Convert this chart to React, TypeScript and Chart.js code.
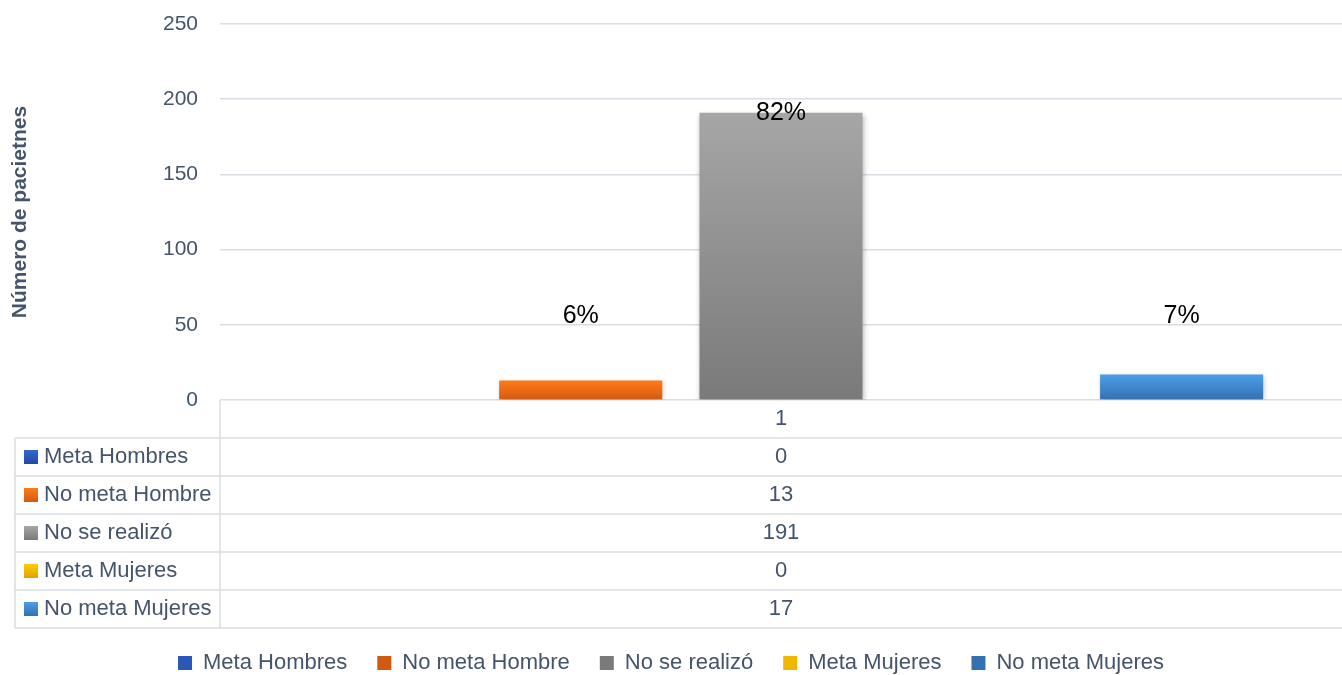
import React, { useEffect, useRef } from "react";
import { Chart, registerables } from "chart.js";

Chart.register(...registerables);

const categories = ["1"];
const seriesNames = ["Meta Hombres", "No meta Hombre", "No se realizó", "Meta Mujeres", "No meta Mujeres"];
const seriesValues = [0, 13, 191, 0, 17];
const percentLabels = ["", "6%", "82%", "", "7%"];
const yTicks = [0, 50, 100, 150, 200, 250];
const colorTop = ["#3368d2", "#ff7b18", "#a6a6a6", "#ffcc00", "#4a9fe9"];
const colorBottom = ["#224a9d", "#d25a10", "#7a7a7a", "#e0a200", "#3471b0"];
const colorMid = ["#2a58b8", "#ea6a14", "#909090", "#f0b700", "#3f89cd"];

const FONT = "'Liberation Sans', Arial, sans-serif";
const TEXT = "#44546A";
const GRID = "#d9dde4";

export default function App() {
  const ref = useRef<HTMLCanvasElement | null>(null);

  useEffect(() => {
    if (!ref.current) return;

    const barPlugin = {
      id: "barExtras",
      beforeDatasetsDraw(chart: any) {
        const ctx = chart.ctx;
        ctx.save();
        ctx.shadowColor = "rgba(0,0,0,0.28)";
        ctx.shadowBlur = 5;
        ctx.shadowOffsetX = 1;
        ctx.shadowOffsetY = 2;
      },
      afterDatasetsDraw(chart: any) {
        const ctx = chart.ctx;
        ctx.restore();
        const y = chart.scales.y;
        const LABEL_FLOOR = 56;
        ctx.save();
        ctx.fillStyle = "#000000";
        ctx.font = `25px ${FONT}`;
        ctx.textAlign = "center";
        ctx.textBaseline = "middle";
        chart.data.datasets.forEach((ds: any, i: number) => {
          const txt = percentLabels[i];
          if (!txt) return;
          const meta = chart.getDatasetMeta(i);
          const el = meta.data[0];
          const v = seriesValues[i];
          ctx.fillText(txt, el.x, y.getPixelForValue(Math.max(v, LABEL_FLOOR)));
        });
        ctx.restore();
      },
    };

    const tablePlugin = {
      id: "dataTable",
      afterDraw(chart: any) {
        const { ctx, chartArea } = chart;
        const xs = chart.scales.x;
        const top = chartArea.bottom;
        const left = chartArea.left;
        const right = chart.width;
        const rowH = 38;
        const tableLeft = 15;
        const nRows = seriesNames.length + 1;
        ctx.save();
        ctx.strokeStyle = GRID;
        ctx.lineWidth = 1.5;
        ctx.beginPath();
        ctx.moveTo(left, top);
        ctx.lineTo(left, top + nRows * rowH);
        ctx.moveTo(tableLeft, top + rowH);
        ctx.lineTo(tableLeft, top + nRows * rowH);
        for (let i = 1; i <= nRows; i++) {
          ctx.moveTo(tableLeft, top + i * rowH);
          ctx.lineTo(right, top + i * rowH);
        }
        ctx.stroke();

        ctx.fillStyle = TEXT;
        ctx.font = `22px ${FONT}`;
        ctx.textBaseline = "middle";
        ctx.textAlign = "center";
        const cx = xs.getPixelForValue(0);
        ctx.fillText(categories[0], cx, top + rowH / 2);
        seriesNames.forEach((name, i) => {
          const rowTop = top + (i + 1) * rowH;
          const cy = rowTop + rowH / 2;
          ctx.textAlign = "center";
          ctx.fillStyle = TEXT;
          ctx.fillText(String(seriesValues[i]), cx, cy);
          const g = ctx.createLinearGradient(0, cy - 7, 0, cy + 7);
          g.addColorStop(0, colorTop[i]);
          g.addColorStop(1, colorBottom[i]);
          ctx.fillStyle = g;
          ctx.fillRect(24, cy - 7, 14, 14);
          ctx.fillStyle = TEXT;
          ctx.textAlign = "left";
          ctx.fillText(name, 44, cy);
        });
        ctx.restore();
      },
    };

    const datasets = seriesNames.map((name, i) => ({
      label: name,
      data: [seriesValues[i]],
      borderWidth: 0,
      backgroundColor: (c: any) => {
        const chart = c.chart;
        if (!chart.chartArea || c.type !== "data") return colorMid[i];
        const ys = chart.scales.y;
        const y0 = ys.getPixelForValue(0);
        const y1 = ys.getPixelForValue(c.raw);
        if (Math.abs(y0 - y1) < 1) return colorMid[i];
        const g = chart.ctx.createLinearGradient(0, y1, 0, y0);
        g.addColorStop(0, colorTop[i]);
        g.addColorStop(1, colorBottom[i]);
        return g;
      },
      categoryPercentage: 0.8926,
      barPercentage: 0.814,
    }));

    const chart = new Chart(ref.current, {
      type: "bar",
      data: { labels: categories, datasets },
      options: {
        responsive: false,
        animation: false,
        layout: { padding: { top: 24, right: 0, left: 0, bottom: -9 } },
        plugins: {
          tooltip: { enabled: false },
          legend: {
            position: "bottom",
            labels: {
              boxWidth: 14,
              boxHeight: 14,
              padding: 30,
              color: TEXT,
              font: { family: FONT, size: 22 },
            },
          },
        },
        scales: {
          x: {
            type: "category",
            ticks: { display: false },
            grid: { display: false },
            border: { display: false },
            afterFit: (s: any) => {
              s.height = 222;
            },
          },
          y: {
            min: 0,
            max: 250,
            afterBuildTicks: (s: any) => {
              s.ticks = yTicks.map((v) => ({ value: v }));
            },
            ticks: {
              padding: 0,
              color: TEXT,
              font: { family: FONT, size: 21 },
            },
            grid: {
              color: GRID,
              lineWidth: 1.5,
              drawTicks: true,
              tickLength: 22,
              tickColor: "rgba(0,0,0,0)",
            },
            border: { display: false },
            title: {
              display: true,
              text: "Número de pacietnes",
              color: TEXT,
              font: { family: FONT, size: 21, weight: "bold" },
              padding: { top: 8, bottom: 0 },
            },
            afterFit: (s: any) => {
              s.width = 220;
            },
          },
        },
      },
      plugins: [barPlugin, tablePlugin],
    });
    return () => chart.destroy();
  }, []);

  return (
    <div style={{ position: "fixed", left: 0, top: 0, width: 1342, height: 675, background: "#fff" }}>
      <canvas ref={ref} width={1342} height={675} style={{ display: "block" }} />
    </div>
  );
}
